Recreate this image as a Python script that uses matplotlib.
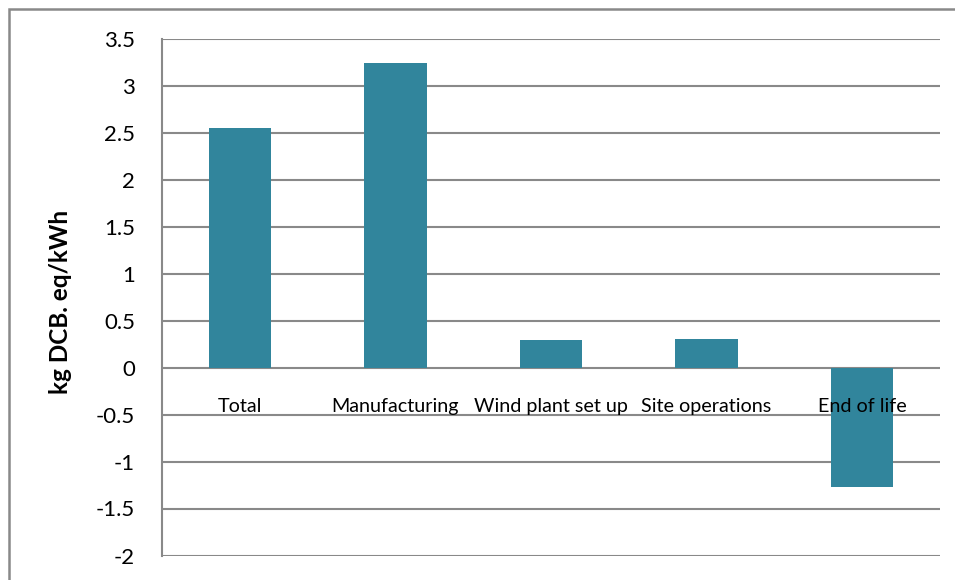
import matplotlib
matplotlib.use("Agg")
import matplotlib.pyplot as plt
from matplotlib.patches import Rectangle

categories = ["Total", "Manufacturing", "Wind plant set up", "Site operations", "End of life"]
values = [2.55, 3.24, 0.29, 0.30, -1.27]
yticks = [-2, -1.5, -1, -0.5, 0, 0.5, 1, 1.5, 2, 2.5, 3, 3.5]
ytick_labels = ["-2", "-1.5", "-1", "-0.5", "0", "0.5", "1", "1.5", "2", "2.5", "3", "3.5"]

plt.rcParams["font.family"] = ["Lato", "DejaVu Sans"]

W, H = 955, 580
fig = plt.figure(figsize=(W / 100, H / 100), dpi=100)
ax = fig.add_axes([162 / W, 1 - 555.5 / H, (940 - 162) / W, (555.5 - 38.5) / H])

grid_color = "#898989"
bar_color = "#31859C"

x = list(range(len(categories)))
ax.bar(x, values, width=0.4, color=bar_color, zorder=3)

ax.set_xlim(-0.5, len(categories) - 0.5)
ax.set_ylim(-2, 3.5)
ax.set_yticks(yticks)
ax.set_yticklabels(ytick_labels, fontsize=16)
ax.set_xticks([])

for yv in yticks:
    ax.axhline(yv, color=grid_color, lw=1.5, zorder=1)

for s in ["top", "right", "bottom"]:
    ax.spines[s].set_visible(False)
ax.spines["left"].set_color(grid_color)
ax.spines["left"].set_linewidth(1.5)
ax.tick_params(axis="y", length=0, pad=19.5, labelcolor="black")

# Category labels sit just below the zero line, drawn over the bars
for xi, name in zip(x, categories):
    ax.annotate(name, xy=(xi, 0), xytext=(0, -44), textcoords="offset pixels",
                ha="center", va="baseline", fontsize=14.2, zorder=5)

ax.set_ylabel("kg DCB. eq/kWh", fontsize=17.5, fontweight="bold")
ax.yaxis.set_label_coords(-(162 - 72) / (940 - 162), (555.5 - 302) / (555.5 - 38.5))

# Chart area border
fig.patches.append(Rectangle((8.5 / W, -0.1), 1.2, 1.1 - 8.5 / H,
                             transform=fig.transFigure, fill=False,
                             edgecolor=grid_color, lw=1.8, zorder=0))

fig.savefig("out.png", dpi=100)
